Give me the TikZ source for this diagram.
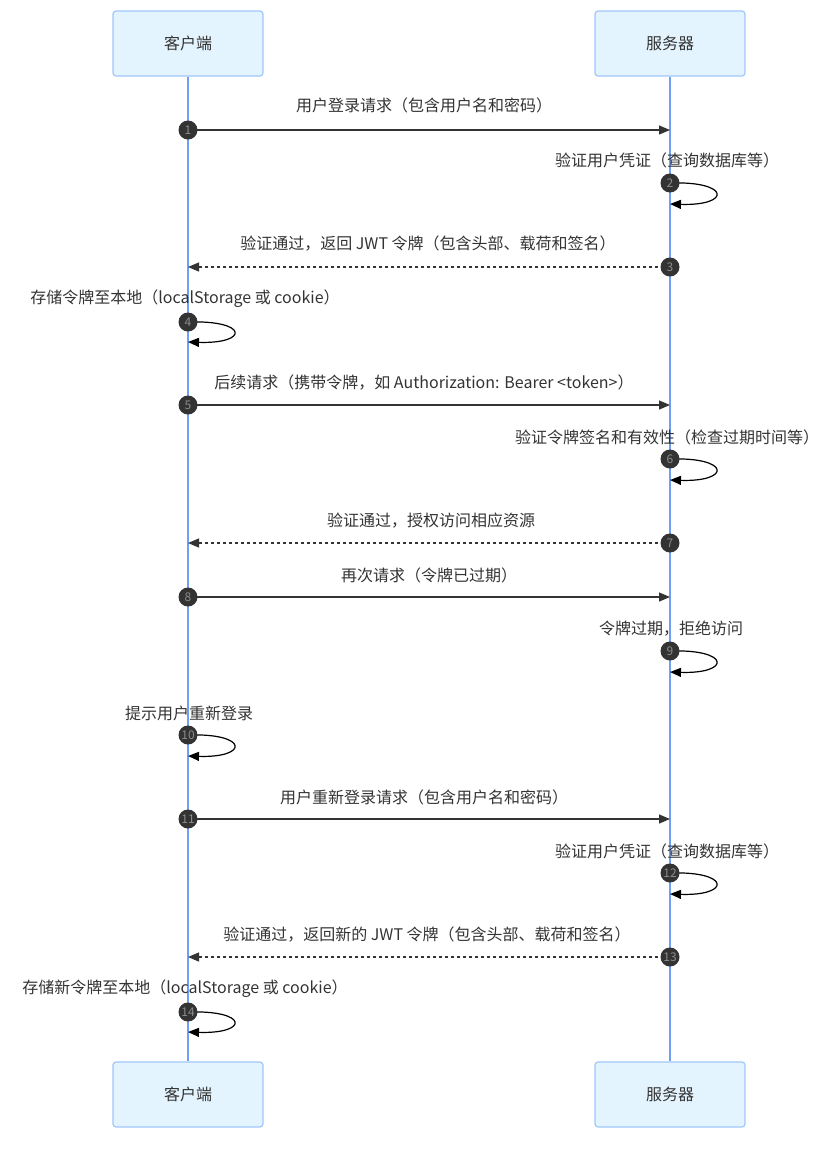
\documentclass[tikz,border=0pt]{standalone}
\usepackage{fontspec}
\setmainfont{Noto Sans CJK SC}
\usepackage{xcolor}
\usetikzlibrary{positioning, arrows.meta}
\definecolor{actorfill}{RGB}{228,244,254}
\definecolor{actorline}{RGB}{160,198,250}
\definecolor{lifeline}{RGB}{112,160,244}
\definecolor{msgcolor}{RGB}{51,51,51}
\definecolor{numtext}{RGB}{140,140,140}

\begin{document}
\begin{tikzpicture}[
    x=1pt, y=-1pt,
    every node/.style={align=center, text=msgcolor, font=\fontsize{16}{19}\selectfont},
    actor/.style={rectangle, draw=actorline, line width=1.2pt, fill=actorfill, rounded corners=3pt, minimum width=150pt, minimum height=65pt},
    msg/.style={draw=msgcolor, line width=1.2pt, -{Triangle[length=11pt, width=9pt]}},
    reply/.style={msg, dash pattern=on 3pt off 3pt},
    selfmsg/.style={draw=black, line width=1.2pt, -{Triangle[length=11pt, width=9pt]}},
    num/.style={circle, fill=msgcolor, inner sep=0pt, minimum size=19pt, text=numtext, font=\fontsize{12}{12}\selectfont}
]
    \useasboundingbox (0,0) rectangle (827,1152);

    \node[actor] (client) at (188,43.5) {客户端};
    \node[actor] (server) at (670,43.5) {服务器};
    \node[actor] (clientb) at (188,1094.5) {客户端};
    \node[actor] (serverb) at (670,1094.5) {服务器};

    \draw[lifeline, line width=1.3pt] (client) -- (clientb);
    \draw[lifeline, line width=1.3pt] (server) -- (serverb);

    % 1
    \coordinate (c1) at (188,130); \coordinate (s1) at (670,130);
    \node (l1) at (424,105) {用户登录请求（包含用户名和密码）};
    \draw[msg] (c1) -- (s1);
    \node[num] (n1) at (c1) {1};
    % 2
    \coordinate (a2) at (670,183); \coordinate (b2) at (670,204);
    \node (l2) at (667,160) {验证用户凭证（查询数据库等）};
    \draw[selfmsg] (a2) .. controls (731,181) and (731,206) .. (b2);
    \node[num] (n2) at (a2) {2};
    % 3
    \coordinate (s3) at (670,267); \coordinate (c3) at (188,267);
    \node (l3) at (428,244) {验证通过，返回 JWT 令牌（包含头部、载荷和签名）};
    \draw[reply] (s3) -- (c3);
    \node[num] (n3) at (s3) {3};
    % 4
    \coordinate (a4) at (188,322); \coordinate (b4) at (188,342);
    \node (l4) at (185,299) {存储令牌至本地（localStorage 或 cookie）};
    \draw[selfmsg] (a4) .. controls (249,320) and (249,344) .. (b4);
    \node[num] (n4) at (a4) {4};
    % 5
    \coordinate (c5) at (188,405); \coordinate (s5) at (670,405);
    \node (l5) at (424,383) {后续请求（携带令牌，如 Authorization: Bearer <token>）};
    \draw[msg] (c5) -- (s5);
    \node[num] (n5) at (c5) {5};
    % 6
    \coordinate (a6) at (670,459); \coordinate (b6) at (670,480);
    \node (l6) at (667,437) {验证令牌签名和有效性（检查过期时间等）};
    \draw[selfmsg] (a6) .. controls (731,457) and (731,482) .. (b6);
    \node[num] (n6) at (a6) {6};
    % 7
    \coordinate (s7) at (670,543); \coordinate (c7) at (188,543);
    \node (l7) at (431,521) {验证通过，授权访问相应资源};
    \draw[reply] (s7) -- (c7);
    \node[num] (n7) at (s7) {7};
    % 8
    \coordinate (c8) at (188,597); \coordinate (s8) at (670,597);
    \node (l8) at (429,575) {再次请求（令牌已过期）};
    \draw[msg] (c8) -- (s8);
    \node[num] (n8) at (c8) {8};
    % 9
    \coordinate (a9) at (670,651); \coordinate (b9) at (670,672);
    \node (l9) at (671,629) {令牌过期，拒绝访问};
    \draw[selfmsg] (a9) .. controls (731,649) and (731,674) .. (b9);
    \node[num] (n9) at (a9) {9};
    % 10
    \coordinate (a10) at (188,735); \coordinate (b10) at (188,756);
    \node (l10) at (189,713) {提示用户重新登录};
    \draw[selfmsg] (a10) .. controls (249,733) and (249,758) .. (b10);
    \node[num] (n10) at (a10) {10};
    % 11
    \coordinate (c11) at (188,819); \coordinate (s11) at (670,819);
    \node (l11) at (424,797) {用户重新登录请求（包含用户名和密码）};
    \draw[msg] (c11) -- (s11);
    \node[num] (n11) at (c11) {11};
    % 12
    \coordinate (a12) at (670,873); \coordinate (b12) at (670,894);
    \node (l12) at (667,851) {验证用户凭证（查询数据库等）};
    \draw[selfmsg] (a12) .. controls (731,871) and (731,896) .. (b12);
    \node[num] (n12) at (a12) {12};
    % 13
    \coordinate (s13) at (670,957); \coordinate (c13) at (188,957);
    \node (l13) at (427,934) {验证通过，返回新的 JWT 令牌（包含头部、载荷和签名）};
    \draw[reply] (s13) -- (c13);
    \node[num] (n13) at (s13) {13};
    % 14
    \coordinate (a14) at (188,1012); \coordinate (b14) at (188,1032);
    \node (l14) at (185,989) {存储新令牌至本地（localStorage 或 cookie）};
    \draw[selfmsg] (a14) .. controls (249,1010) and (249,1034) .. (b14);
    \node[num] (n14) at (a14) {14};
\end{tikzpicture}
\end{document}
